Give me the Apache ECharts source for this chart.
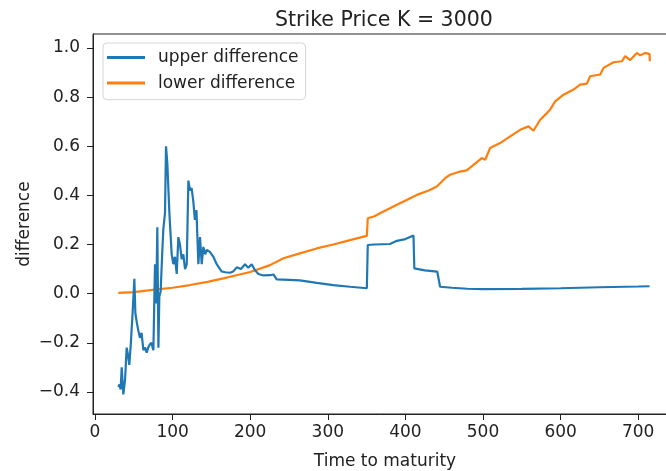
<!DOCTYPE html>
<html>
<head>
<meta charset="utf-8">
<script src="https://cdn.jsdelivr.net/npm/echarts@6/dist/echarts.min.js"></script>
<style>html,body{margin:0;padding:0;background:#fff;}#c{width:666px;height:471px;}</style>
</head>
<body>
<div id="c"></div>
<script>
const titleText = 'Strike Price K = 3000';
const xName = 'Time to maturity';
const yName = 'difference';
const seriesNames = ['upper difference', 'lower difference'];
const xTicks = [0, 100, 200, 300, 400, 500, 600, 700];
const yTicks = [-0.4, -0.2, 0.0, 0.2, 0.4, 0.6, 0.8, 1.0];

const upperX = [30, 31.5, 33, 34.4, 35.5, 36.5, 38.7, 40.8, 42.5, 44.2, 46, 48.6, 50.7, 52, 54, 55.8, 57.9, 60, 62.3, 64.5, 66.6, 68.5, 70, 72.6, 75.2, 76.3, 77.3, 78.6, 79.5, 80.3, 81.7, 82.9, 84.6, 86.4, 88, 90.2, 91.5, 93.2, 95.8, 98.8, 100.9, 103, 105.3, 107.4, 109.5, 111.7, 113.8, 116, 118.2, 120.3, 122.4, 124.5, 126.7, 128.7, 130.7, 133.2, 135.3, 137.5, 139.6, 142, 144, 148, 152.5, 156.8, 160, 163.3, 168, 174, 178, 182.7, 188, 193.4, 197.5, 201.9, 206, 210.5, 217, 225.6, 229.9, 234.2, 250, 264, 285.8, 307, 328.7, 350.3, 351.5, 360, 380, 389, 400, 410.4, 411.5, 425, 441, 443, 444.7, 460, 480, 500, 550, 600, 650, 700, 714.6];
const upperY = [-0.38, -0.37, -0.39, -0.30, -0.36, -0.41, -0.35, -0.22, -0.25, -0.29, -0.21, -0.07, 0.06, -0.08, -0.12, -0.15, -0.18, -0.16, -0.23, -0.22, -0.24, -0.22, -0.21, -0.20, -0.23, -0.05, 0.12, -0.04, 0.10, 0.27, -0.22, -0.01, 0.01, 0.15, 0.26, 0.33, 0.60, 0.53, 0.33, 0.16, 0.12, 0.15, 0.08, 0.23, 0.20, 0.14, 0.16, 0.10, 0.12, 0.46, 0.42, 0.43, 0.375, 0.30, 0.34, 0.12, 0.23, 0.12, 0.19, 0.16, 0.178, 0.17, 0.15, 0.12, 0.105, 0.09, 0.087, 0.085, 0.09, 0.107, 0.10, 0.12, 0.105, 0.12, 0.096, 0.08, 0.074, 0.075, 0.078, 0.058, 0.056, 0.054, 0.044, 0.035, 0.028, 0.022, 0.198, 0.20, 0.202, 0.215, 0.222, 0.237, 0.103, 0.095, 0.09, 0.085, 0.028, 0.024, 0.02, 0.018, 0.019, 0.022, 0.026, 0.029, 0.03];

const lowerX = [30, 50, 79.5, 100, 122.5, 145, 165.4, 185, 200, 225.6, 242.8, 265, 285.8, 307, 328.7, 340, 350.3, 351.5, 360, 371.7, 393, 414.7, 430, 440.5, 451.2, 457.6, 470.5, 479, 487.7, 498.5, 502.8, 509.2, 522, 535, 547.9, 558.6, 565, 573.7, 582.3, 586.6, 593, 603.7, 616.6, 625.2, 633.8, 638.1, 651, 655.3, 668.2, 679, 683.2, 689.7, 698.3, 702.6, 709, 714.6, 715];
const lowerY = [0.003, 0.006, 0.017, 0.024, 0.035, 0.048, 0.062, 0.077, 0.088, 0.116, 0.144, 0.165, 0.184, 0.200, 0.218, 0.227, 0.235, 0.307, 0.315, 0.334, 0.368, 0.402, 0.42, 0.436, 0.47, 0.484, 0.497, 0.502, 0.524, 0.552, 0.545, 0.593, 0.613, 0.64, 0.667, 0.681, 0.663, 0.708, 0.735, 0.75, 0.783, 0.81, 0.831, 0.851, 0.855, 0.885, 0.892, 0.919, 0.942, 0.946, 0.967, 0.951, 0.98, 0.97, 0.98, 0.975, 0.946];

const pair = (xs, ys) => xs.map((x, i) => [x, ys[i]]);
const FONT = 'DejaVu Sans';
const txt = '#222';

const chart = echarts.init(document.getElementById('c'), null, {renderer: 'canvas'});
chart.setOption({
  animation: false,
  backgroundColor: '#fff',
  title: {
    text: titleText, left: 270, top: 5,
    textStyle: {fontFamily: FONT, fontSize: 20.5, fontWeight: 'normal', color: txt}
  },
  legend: {
    orient: 'vertical', left: 103, top: 43,
    data: seriesNames,
    icon: 'rect', itemWidth: 38, itemHeight: 3, itemGap: 8.6,
    padding: [6, 7, 8, 4],
    backgroundColor: 'rgba(255,255,255,0.85)',
    borderColor: '#d6d6d6', borderWidth: 1, borderRadius: 4,
    textStyle: {fontFamily: FONT, fontSize: 17, color: txt, lineHeight: 17, padding: [0, 0, 0, 8]}
  },
  grid: {
    left: 93, width: 584, top: 34, height: 380,
    outerBoundsMode: 'none', containLabel: false,
    show: true, borderColor: '#222', borderWidth: 1, backgroundColor: 'transparent'
  },
  xAxis: {
    type: 'value', min: -2.6, max: 750,
    name: xName, nameLocation: 'middle', nameGap: 39,
    nameTextStyle: {fontFamily: FONT, fontSize: 17, color: txt},
    axisLine: {show: true, onZero: false, lineStyle: {color: '#222', width: 1}},
    axisTick: {show: true, length: 6, lineStyle: {color: '#222'}, customValues: xTicks},
    axisLabel: {fontFamily: FONT, fontSize: 17, color: txt, margin: 10, customValues: xTicks},
    splitLine: {show: false}
  },
  yAxis: {
    type: 'value', min: -0.49, max: 1.057,
    name: yName, nameLocation: 'middle', nameGap: 60, nameMoveOverlap: false,
    nameTextStyle: {fontFamily: FONT, fontSize: 17, color: txt},
    axisLine: {show: true, onZero: false, lineStyle: {color: '#222', width: 1}},
    axisTick: {show: true, length: 6, lineStyle: {color: '#222'}, customValues: yTicks},
    axisLabel: {
      fontFamily: FONT, fontSize: 17, color: txt, margin: 13, customValues: yTicks,
      formatter: v => (v < 0 ? '\u2212' + Math.abs(v).toFixed(1) : v.toFixed(1))
    },
    splitLine: {show: false}
  },
  series: [
    {name: seriesNames[0], type: 'line', data: pair(upperX, upperY), showSymbol: false,
     color: '#1f77b4', lineStyle: {width: 2.2, color: '#1f77b4'}, z: 3},
    {name: seriesNames[1], type: 'line', data: pair(lowerX, lowerY), showSymbol: false,
     color: '#ff7f0e', lineStyle: {width: 2.2, color: '#ff7f0e'}, z: 2}
  ]
});
</script>
</body>
</html>
